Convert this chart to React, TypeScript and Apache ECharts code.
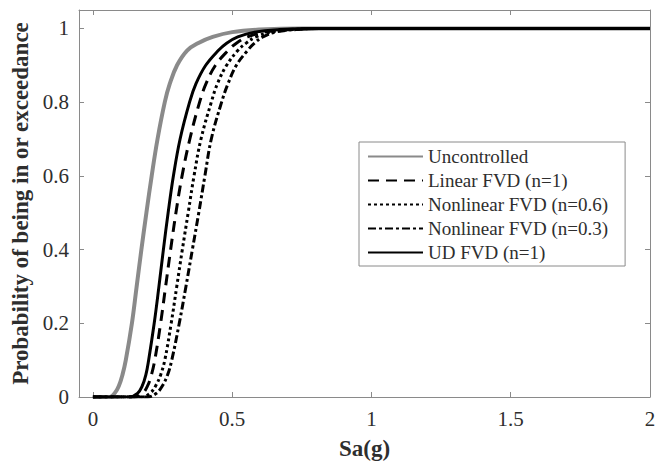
import React, { useEffect, useRef } from "react";
import * as echarts from "echarts";

const seriesNames = [
  "Uncontrolled",
  "Linear FVD (n=1)",
  "Nonlinear FVD (n=0.6)",
  "Nonlinear FVD (n=0.3)",
  "UD FVD (n=1)",
];

const xTicks = [0, 0.5, 1, 1.5, 2];
const yTicks = [0, 0.2, 0.4, 0.6, 0.8, 1];

const uncontrolledX = [0, 0.06, 0.078, 0.093, 0.106, 0.118, 0.14, 0.157, 0.174, 0.192, 0.211, 0.232, 0.258, 0.276, 0.302, 0.338, 0.377, 0.43, 0.5, 0.6, 0.75, 2];
const uncontrolledY = [0, 0, 0.01, 0.03, 0.06, 0.1, 0.2, 0.3, 0.4, 0.5, 0.6, 0.7, 0.8, 0.85, 0.9, 0.94, 0.96, 0.977, 0.99, 0.997, 1, 1];

const linearX = [0, 0.15, 0.178, 0.196, 0.21, 0.222, 0.243, 0.261, 0.279, 0.298, 0.32, 0.348, 0.383, 0.406, 0.44, 0.485, 0.515, 0.555, 0.615, 0.7, 0.82, 2];
const linearY = [0, 0, 0.01, 0.03, 0.06, 0.1, 0.2, 0.3, 0.4, 0.5, 0.6, 0.7, 0.8, 0.85, 0.9, 0.94, 0.96, 0.977, 0.99, 0.997, 1, 1];

const nl06X = [0, 0.175, 0.205, 0.225, 0.243, 0.258, 0.281, 0.301, 0.321, 0.342, 0.363, 0.388, 0.425, 0.447, 0.48, 0.52, 0.55, 0.585, 0.64, 0.72, 0.85, 2];
const nl06Y = [0, 0, 0.01, 0.03, 0.06, 0.1, 0.2, 0.3, 0.4, 0.5, 0.6, 0.7, 0.8, 0.85, 0.9, 0.94, 0.96, 0.977, 0.99, 0.997, 1, 1];

const nl03X = [0, 0.195, 0.228, 0.249, 0.268, 0.283, 0.31, 0.334, 0.357, 0.38, 0.402, 0.425, 0.462, 0.485, 0.515, 0.555, 0.58, 0.61, 0.655, 0.73, 0.86, 2];
const nl03Y = [0, 0, 0.01, 0.03, 0.06, 0.1, 0.2, 0.3, 0.4, 0.5, 0.6, 0.7, 0.8, 0.85, 0.9, 0.94, 0.96, 0.977, 0.99, 0.997, 1, 1];

const udX = [0, 0.13, 0.16, 0.177, 0.19, 0.2, 0.22, 0.237, 0.253, 0.27, 0.289, 0.313, 0.347, 0.37, 0.405, 0.45, 0.48, 0.52, 0.58, 0.67, 0.8, 2];
const udY = [0, 0, 0.01, 0.03, 0.06, 0.1, 0.2, 0.3, 0.4, 0.5, 0.6, 0.7, 0.8, 0.85, 0.9, 0.94, 0.96, 0.977, 0.99, 0.997, 1, 1];

const pairs = (xs: number[], ys: number[]) => xs.map((x, i) => [x, ys[i]]);

const SERIF = "'Liberation Serif', 'Times New Roman', serif";
const AXIS_GRAY = "#8a8a8a";
const TEXT = "#2e2e2e";

export default function App() {
  const ref = useRef<HTMLDivElement>(null);
  useEffect(() => {
    if (!ref.current) return;
    const chart = echarts.init(ref.current, undefined, { renderer: "svg" });
    const styles = [
      { color: "#8a8a8a", width: 4, type: "solid" as any },
      { color: "#000", width: 3, type: [11, 7] as any },
      { color: "#000", width: 3, type: [3, 3] as any },
      { color: "#000", width: 3, type: [8, 3, 3, 3] as any },
      { color: "#000", width: 3, type: "solid" as any },
    ];
    const datas = [
      pairs(uncontrolledX, uncontrolledY),
      pairs(linearX, linearY),
      pairs(nl06X, nl06Y),
      pairs(nl03X, nl03Y),
      pairs(udX, udY),
    ];
    const baseX = {
      type: "value",
      min: -0.05,
      max: 2,
      splitLine: { show: false },
      axisLine: { show: true, onZero: false, lineStyle: { color: AXIS_GRAY, width: 1 } },
    };
    const baseY = {
      type: "value",
      min: 0,
      max: 1.05,
      splitLine: { show: false },
      axisLine: { show: true, onZero: false, lineStyle: { color: AXIS_GRAY, width: 1 } },
    };
    chart.setOption({
      animation: false,
      backgroundColor: "#fff",
      grid: { left: 79, right: 15, top: 10, bottom: 65, containLabel: false },
      xAxis: [
        {
          ...baseX,
          position: "bottom",
          name: "Sa(g)",
          nameLocation: "middle",
          nameGap: 40,
          nameTextStyle: { fontFamily: SERIF, fontSize: 23, fontWeight: "bold", color: TEXT },
          axisTick: { show: true, inside: true, length: 5, customValues: xTicks, lineStyle: { color: AXIS_GRAY } },
          axisLabel: {
            show: true,
            customValues: xTicks,
            margin: 11,
            fontFamily: SERIF,
            fontSize: 21,
            color: TEXT,
            formatter: (v: number) => String(v),
          },
        },
        {
          ...baseX,
          position: "top",
          axisTick: { show: true, inside: true, length: 5, customValues: xTicks, lineStyle: { color: AXIS_GRAY } },
          axisLabel: { show: false },
        },
      ],
      yAxis: [
        {
          ...baseY,
          position: "left",
          name: "Probability of being in or exceedance",
          nameLocation: "middle",
          nameGap: 42,
          nameTextStyle: { fontFamily: SERIF, fontSize: 23, fontWeight: "bold", color: TEXT },
          axisTick: { show: true, inside: true, length: 5, customValues: yTicks, lineStyle: { color: AXIS_GRAY } },
          axisLabel: {
            show: true,
            customValues: yTicks,
            margin: 10,
            fontFamily: SERIF,
            fontSize: 21,
            color: TEXT,
            formatter: (v: number) => String(v),
          },
        },
        {
          ...baseY,
          position: "right",
          axisTick: { show: true, inside: true, length: 5, customValues: yTicks, lineStyle: { color: AXIS_GRAY } },
          axisLabel: { show: false },
        },
      ],
      legend: {
        orient: "vertical",
        left: 359,
        top: 142,
        padding: [5, 17, 4, 8],
        itemWidth: 55,
        itemHeight: 20,
        itemGap: 5,
        borderColor: AXIS_GRAY,
        borderWidth: 1,
        backgroundColor: "#fff",
        itemStyle: { opacity: 0 },
        textStyle: { fontFamily: SERIF, fontSize: 19, color: TEXT },
        data: seriesNames,
      },
      series: seriesNames.map((name, i) => ({
        name,
        type: "line",
        xAxisIndex: 0,
        yAxisIndex: 0,
        data: datas[i],
        symbol: "none",
        showSymbol: false,
        smooth: 0.4,
        color: styles[i].color,
        lineStyle: { color: styles[i].color, width: styles[i].width, type: styles[i].type, cap: "butt" },
        z: 2 + i,
      })),
    });
    return () => chart.dispose();
  }, []);
  return (
    <div
      ref={ref}
      style={{ position: "fixed", left: 0, top: 0, width: 665, height: 465, background: "#fff" }}
    />
  );
}
